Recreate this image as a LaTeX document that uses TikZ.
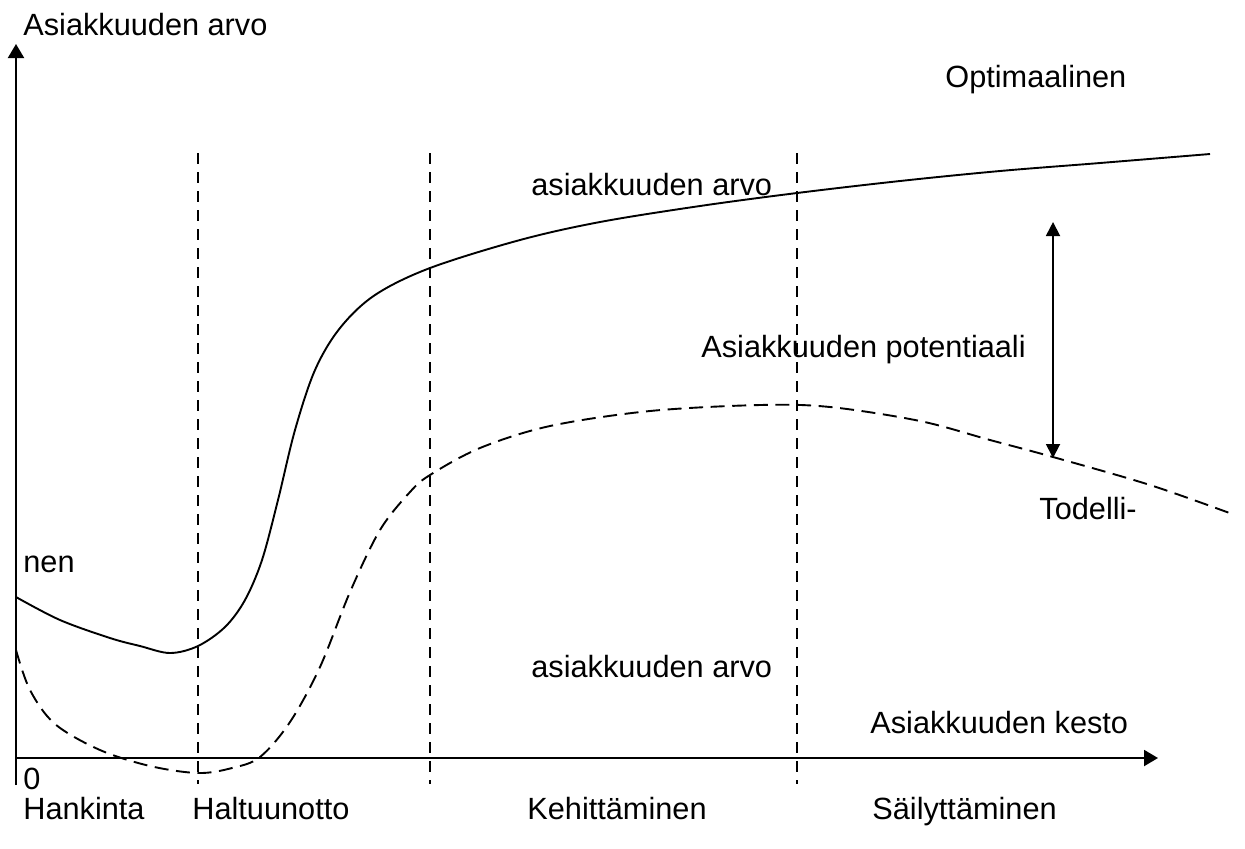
\documentclass[tikz,border=0pt]{standalone}
\usepackage{fontspec}
\setmainfont{Liberation Sans}
\usetikzlibrary{arrows.meta}
\begin{document}
\begin{tikzpicture}[x=0.5pt,y=-0.5pt,
  lbl/.style={anchor=base west,inner sep=0pt,font=\fontsize{15.35pt}{18pt}\selectfont},
  axis/.style={line width=1pt,-{Triangle[length=7pt,width=8pt]}},
  phase/.style={line width=1pt,dash pattern=on 5.5pt off 4pt},
  curve/.style={line width=0.95pt},
  dcurve/.style={line width=0.95pt,dash pattern=on 7pt off 3.8pt},
  gap/.style={line width=0.9pt,{Triangle[length=7pt,width=7pt]}-{Triangle[length=7pt,width=7pt]}}]
\useasboundingbox (0,0) rectangle (1245,848);

% axes
\coordinate (o) at (16,785);
\coordinate (ytop) at (16,44);
\coordinate (xl) at (16,758);
\coordinate (xr) at (1158,758);
\draw[axis] (o) -- (ytop);
\draw[axis] (xl) -- (xr);

% phase boundaries
\foreach \px/\nm in {198/p1,430/p2,797/p3}{
  \coordinate (\nm t) at (\px,153);
  \coordinate (\nm b) at (\px,784);
  \draw[phase] (\nm t) -- (\nm b);
}

% optimal customer value
\draw[curve] plot[smooth,tension=0.55] coordinates {
  (16,597) (60,620) (110,638) (140,646) (170,653) (198,646) (225,627)
  (245,600) (262,560) (278,500) (295,430) (315,370) (340,328) (375,295)
  (430,268) (520,240) (600,222) (700,206) (797,193) (900,181) (1000,171)
  (1100,163) (1210,154)};

% actual customer value
\draw[dcurve] plot[smooth,tension=0.55] coordinates {
  (16,650) (30,690) (55,724) (100,750) (150,766) (198,773) (232,768)
  (260,757) (290,722) (320,667) (350,592) (380,530) (410,492) (430,475)
  (480,448) (550,426) (650,411) (760,405) (830,407) (920,421) (990,440)
  (1053,457) (1150,485) (1235,515)};

% potential gap
\coordinate (gt) at (1053,222);
\coordinate (gb) at (1053,458);
\draw[gap] (gb) -- (gt);

% labels
\node[lbl] (ylab) at (23,35) {Asiakkuuden arvo};
\node[lbl] (opt) at (945,87) {Optimaalinen};
\node[lbl] (optv) at (531,195) {asiakkuuden arvo};
\node[lbl] (pot) at (701,357) {Asiakkuuden potentiaali};
\node[lbl] (tod) at (1039,519) {Todelli-};
\node[lbl] (nen) at (23,572) {nen};
\node[lbl] (todv) at (531,677) {asiakkuuden arvo};
\node[lbl] (xlab) at (870,733) {Asiakkuuden kesto};
\node[lbl] (zero) at (23,789) {0};
\node[lbl] (ph1) at (23,819) {Hankinta};
\node[lbl] (ph2) at (192,819) {Haltuunotto};
\node[lbl] (ph3) at (527,819) {Kehittäminen};
\node[lbl] (ph4) at (872,819) {Säilyttäminen};
\end{tikzpicture}
\end{document}
